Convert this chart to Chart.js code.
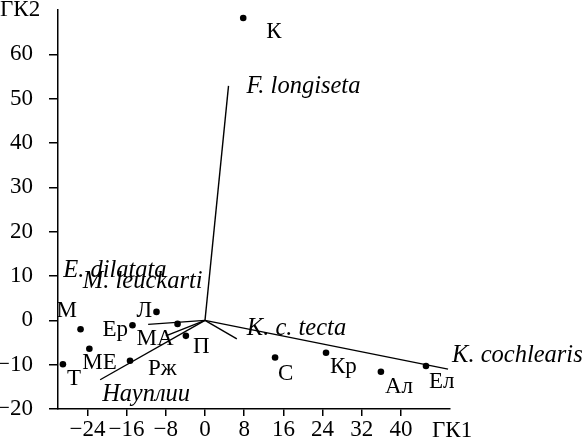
<!DOCTYPE html>
<html>
<head>
<meta charset="utf-8">
<script src="https://cdn.jsdelivr.net/npm/chart.js@4.4.0/dist/chart.umd.min.js"></script>
<style>
  html, body { margin: 0; padding: 0; background: #fff; }
  #wrap { width: 584px; height: 443px; position: relative; }
</style>
</head>
<body>
<div id="wrap"><canvas id="pcaChart"></canvas></div>
<script>
// Sample scores on ГК1 / ГК2
const pointNames = ['К', 'Л', 'М', 'Ер', 'МА', 'П', 'МЕ', 'Т', 'Рж', 'С', 'Кр', 'Ал', 'Ел'];
const pointX = [7.8, -9.9, -25.4, -14.8, -5.6, -3.9, -23.6, -29.0, -15.3, 14.3, 24.7, 35.9, 45.1];
const pointY = [68.2, 1.9, -2.0, -1.1, -0.8, -3.5, -6.4, -9.9, -9.1, -8.4, -7.3, -11.6, -10.3];

// Species loadings (vectors from the origin)
const vectorNames = ['F. longiseta', 'K. cochlearis', 'K. c. tecta', 'Науплии', 'E. dilatata', 'M. leuckarti'];
const vectorX = [4.8, 49.6, 6.5, -21.4, -11.6, -8.0];
const vectorY = [52.9, -11.0, -4.2, -13.4, -0.9, -3.5];

// Tick labels
const xTicks = [-24, -16, -8, 0, 8, 16, 24, 32, 40];
const yTicks = [-20, -10, 0, 10, 20, 30, 40, 50, 60];

// label offsets in px from the mark
const pointLabelOffsets = [[23, 20], [-20, 5], [-24, -12], [-30, 11], [-41, 21], [7, 17],
    [-7, 20], [4, 21], [18, 14], [3, 22], [4, 20], [4, 21], [3, 22]];
const vectorLabelOffsets = [[18, 7], [4, -7], [10, -4], [2, 21], [-85, -47], [-83, -48]];

const serif = '"Liberation Serif", "Times New Roman", serif';

const labelPlugin = {
    id: 'pcaLabels',
    afterDatasetsDraw(chart) {
        const { ctx, scales } = chart;
        const xs = scales.x, ys = scales.y;
        ctx.save();
        ctx.fillStyle = '#000';
        ctx.textAlign = 'left';
        ctx.textBaseline = 'alphabetic';

        ctx.font = '23px ' + serif;
        pointNames.forEach((name, i) => {
            const px = xs.getPixelForValue(pointX[i]);
            const py = ys.getPixelForValue(pointY[i]);
            const [dx, dy] = pointLabelOffsets[i];
            ctx.fillText(name, px + dx, py + dy);
        });

        ctx.font = 'italic 24.5px ' + serif;
        vectorNames.forEach((name, i) => {
            const px = xs.getPixelForValue(vectorX[i]);
            const py = ys.getPixelForValue(vectorY[i]);
            const [dx, dy] = vectorLabelOffsets[i];
            ctx.fillText(name, px + dx, py + dy);
        });

        // axis titles
        ctx.font = '23px ' + serif;
        ctx.fillText('ГК2', 0, 16);
        ctx.fillText('ГК1', xs.right - 18, chart.height - 6);
        ctx.restore();
    }
};

const datasets = [{
    label: 'samples',
    data: pointX.map((x, i) => ({ x, y: pointY[i] })),
    pointRadius: 3.3,
    pointBackgroundColor: '#000',
    pointBorderWidth: 0,
    showLine: false
}];

vectorNames.forEach((name, i) => {
    datasets.push({
        label: name,
        data: [{ x: 0, y: 0 }, { x: vectorX[i], y: vectorY[i] }],
        showLine: true,
        borderColor: '#000',
        borderWidth: 1.4,
        pointRadius: 0
    });
});

const minusFmt = v => String(v).replace('-', '\u2212');

// drop the label overhang padding so the plot area is exactly where we want it
const noOverhang = s => {
    s.paddingTop = 0; s.paddingBottom = 0;
    s.paddingLeft = 0; s.paddingRight = 0;
};

new Chart(document.getElementById('pcaChart'), {
    type: 'scatter',
    data: { datasets },
    options: {
        responsive: true,
        maintainAspectRatio: false,
        animation: false,
        layout: { padding: { top: 10, right: 134, left: 0, bottom: 0 } },
        plugins: {
            legend: { display: false },
            tooltip: { enabled: false }
        },
        scales: {
            x: {
                type: 'linear',
                min: -30,
                max: 50,
                afterBuildTicks: s => { s.ticks = xTicks.map(v => ({ value: v })); },
                afterFit: s => { s.height = 34; noOverhang(s); },
                ticks: {
                    color: '#000',
                    font: { family: serif, size: 23 },
                    padding: 0,
                    maxRotation: 0,
                    autoSkip: false,
                    callback: minusFmt
                },
                grid: { drawOnChartArea: false, tickLength: 7, color: '#000', lineWidth: 1.5 },
                border: { color: '#000', width: 1.5 }
            },
            y: {
                type: 'linear',
                min: -20,
                max: 70,
                afterBuildTicks: s => { s.ticks = yTicks.map(v => ({ value: v })); },
                afterFit: s => { s.width = 58; noOverhang(s); },
                ticks: {
                    color: '#000',
                    font: { family: serif, size: 23 },
                    padding: 16,
                    autoSkip: false,
                    callback: minusFmt
                },
                grid: { drawOnChartArea: false, tickLength: 9, color: '#000', lineWidth: 1.5 },
                border: { color: '#000', width: 1.5 }
            }
        }
    },
    plugins: [labelPlugin]
});
</script>
</body>
</html>
